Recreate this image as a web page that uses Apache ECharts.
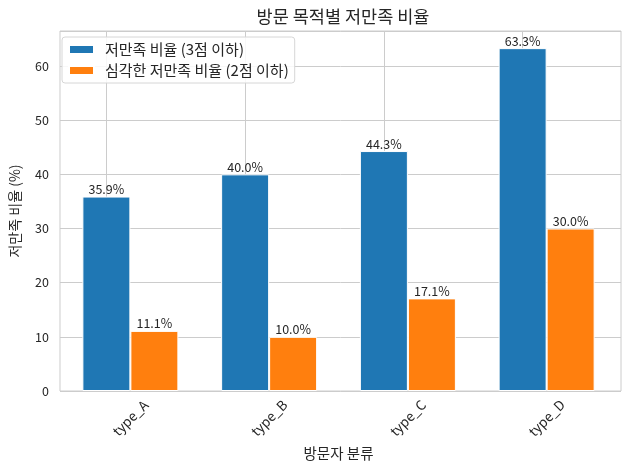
<!DOCTYPE html>
<html>
<head>
<meta charset="utf-8">
<script src="https://cdn.jsdelivr.net/npm/echarts@6/dist/echarts.min.js"></script>
<style>
  html, body { margin: 0; padding: 0; background: #fff; }
  #chart { width: 630px; height: 470px; }
</style>
</head>
<body>
<div id="chart"></div>
<script>
// 데이터
var categories = ['type_A', 'type_B', 'type_C', 'type_D'];
var lowRatio = [35.9, 40.0, 44.3, 63.3];     // 3점 이하
var severeRatio = [11.1, 10.0, 17.1, 30.0];  // 2점 이하
var yTicks = [0, 10, 20, 30, 40, 50, 60];

var FONT = '"Noto Sans CJK KR", "Noto Sans", sans-serif';
var yMax = Math.max.apply(null, lowRatio) * 1.05;

var chart = echarts.init(document.getElementById('chart'));

function barLabel() {
  return {
    show: true,
    position: 'top',
    distance: 1,
    color: '#262626',
    fontSize: 12.5,
    fontFamily: FONT,
    formatter: function (p) { return p.value.toFixed(1) + '%'; }
  };
}

chart.setOption({
  animation: false,
  textStyle: { fontFamily: FONT },
  title: {
    text: '방문 목적별 저만족 비율',
    left: 338,
    textAlign: 'center',
    top: 3,
    textStyle: { fontSize: 17.5, fontWeight: 'normal', color: '#262626', fontFamily: FONT }
  },
  legend: {
    orient: 'vertical',
    left: 62,
    top: 37,
    padding: [5, 6, 5, 6],
    itemGap: 6,
    itemWidth: 25,
    itemHeight: 9,
    backgroundColor: 'rgba(255,255,255,0.85)',
    borderColor: '#d6d6d6',
    borderWidth: 1,
    borderRadius: 3,
    icon: 'rect',
    textStyle: { fontSize: 15, color: '#262626', fontFamily: FONT, padding: [0, 0, 0, 6] },
    data: ['저만족 비율 (3점 이하)', '심각한 저만족 비율 (2점 이하)']
  },
  grid: [
    // frame + y axis
    { left: 56, right: 9, top: 31, bottom: 79, show: true, borderColor: '#cccccc', borderWidth: 1, containLabel: false },
    // bars (inset like matplotlib margins)
    { left: 61, right: 14, top: 31, bottom: 79, containLabel: false }
  ],
  xAxis: [
    {
      gridIndex: 0, type: 'value', min: 0, max: 1,
      axisLine: { show: false }, axisTick: { show: false },
      axisLabel: { show: false }, splitLine: { show: false }
    },
    {
      gridIndex: 1, type: 'category', data: categories,
      name: '방문자 분류', nameLocation: 'middle', nameGap: 55,
      nameTextStyle: { fontSize: 14.5, color: '#262626', fontFamily: FONT },
      axisLine: { show: false }, axisTick: { show: false },
      splitLine: { show: false },
      axisLabel: {
        rotate: 45, align: 'center', verticalAlign: 'middle', margin: 27,
        fontSize: 13.5, color: '#262626', fontFamily: FONT
      }
    }
  ],
  yAxis: [
    {
      gridIndex: 0, type: 'value', min: 0, max: yMax, interval: 10,
      name: '저만족 비율 (%)', nameLocation: 'middle', nameGap: 38,
      nameTextStyle: { fontSize: 14, color: '#262626', fontFamily: FONT },
      axisLine: { show: false }, axisTick: { show: false },
      axisLabel: {
        fontSize: 12.5, color: '#262626', margin: 11, fontFamily: FONT,
        formatter: function (v) { return yTicks.indexOf(v) >= 0 ? String(v) : ''; }
      },
      splitLine: { show: true, lineStyle: { color: '#cccccc', width: 1 } }
    },
    {
      gridIndex: 1, type: 'value', min: 0, max: yMax,
      axisLine: { show: false }, axisTick: { show: false },
      axisLabel: { show: false }, splitLine: { show: false }
    }
  ],
  series: [
    {
      name: '저만족 비율 (3점 이하)',
      type: 'bar',
      xAxisIndex: 1, yAxisIndex: 1,
      data: lowRatio,
      barWidth: 48,
      barGap: '0%',
      itemStyle: { color: '#1f77b4', borderColor: '#ffffff', borderWidth: 1 },
      label: barLabel(),
      markLine: {
        silent: true,
        symbol: ['none', 'none'],
        label: { show: false },
        lineStyle: { color: '#cccccc', width: 1, type: 'solid' },
        data: categories.map(function (c) { return { xAxis: c }; }),
        z: 0
      },
      z: 3
    },
    {
      name: '심각한 저만족 비율 (2점 이하)',
      type: 'bar',
      xAxisIndex: 1, yAxisIndex: 1,
      data: severeRatio,
      barWidth: 48,
      barGap: '0%',
      itemStyle: { color: '#ff7f0e', borderColor: '#ffffff', borderWidth: 1 },
      label: barLabel(),
      z: 3
    }
  ]
});
</script>
</body>
</html>
